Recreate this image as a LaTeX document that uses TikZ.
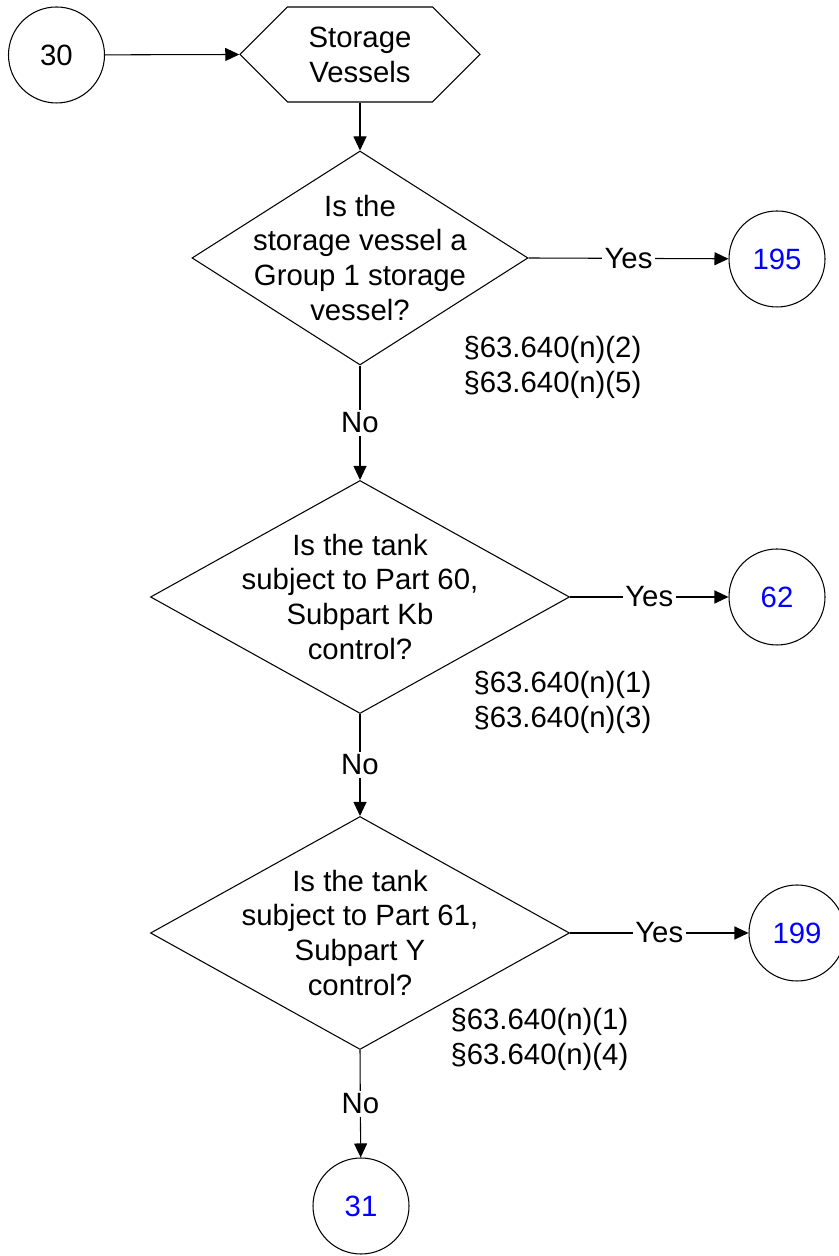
\documentclass[tikz,border=0pt]{standalone}
\usepackage{fontspec}
\setmainfont{Liberation Sans}
\usetikzlibrary{shapes.geometric,shapes.symbols,arrows.meta}
\tikzset{>={Triangle[length=2.8mm,width=2.6mm]},
  conn/.style={circle,draw,minimum size=1.92cm,inner sep=0pt},
  hexa/.style={signal,signal to=west and east,signal pointer angle=90,draw,
    minimum width=4.8cm,minimum height=1.9cm,inner sep=0pt,align=center},
  decision/.style={diamond,draw,inner sep=0pt},
  lbl/.style={fill=white,inner sep=1.5pt},
  cite/.style={anchor=west,align=left,inner sep=0pt}}

\begin{document}
\begin{tikzpicture}[line width=0.6pt,font=\fontsize{16.7}{19.9}\selectfont]
    \useasboundingbox (0,0) rectangle (16.76,25.12);
    \node[conn] at (1.13,24.02) (c30) {30};
    \node[hexa] at (7.2,24.03) (sv) {Storage\\Vessels};
    % questions
    \node[decision,minimum width=6.72cm,minimum height=4.28cm] at (7.2,19.96) (q1) {};
    \node[align=center] at (q1) (t1) {Is the\\storage vessel a\\Group 1 storage\\vessel?};
    \node[decision,minimum width=8.38cm,minimum height=4.66cm] at (7.2,13.18) (q2) {};
    \node[align=center] at (q2) (t2) {Is the tank\\subject to Part 60,\\Subpart Kb\\control?};
    \node[decision,minimum width=8.38cm,minimum height=4.66cm] at (7.2,6.46) (q3) {};
    \node[align=center] at (q3) (t3) {Is the tank\\subject to Part 61,\\Subpart Y\\control?};
    % off-page connectors
    \node[conn,text=blue] at (15.54,19.94) (c195) {195};
    \node[conn,text=blue] at (15.54,13.18) (c62) {62};
    \node[conn,text=blue] at (15.94,6.46) (c199) {199};
    \node[conn,text=blue] at (7.22,1.0) (c31) {31};
    % citations
    \node[cite] at (9.26,17.77) (r1) {§63.640(n)(2)\\§63.640(n)(5)};
    \node[cite] at (9.46,11.07) (r2) {§63.640(n)(1)\\§63.640(n)(3)};
    \node[cite] at (9.0,4.33) (r3) {§63.640(n)(1)\\§63.640(n)(4)};
    % flow
    \draw[->] (c30) -- (sv.west);
    \draw[->] (sv.south) -- (q1.north);
    \draw[->] (q1.east) -- node[lbl] {Yes} (c195);
    \draw[->] (q1.south) -- node[lbl] {No} (q2.north);
    \draw[->] (q2.east) -- node[lbl] {Yes} (c62);
    \draw[->] (q2.south) -- node[lbl] {No} (q3.north);
    \draw[->] (q3.east) -- node[lbl] {Yes} (c199);
    \draw[->] (q3.south) -- node[lbl] {No} (c31);
\end{tikzpicture}
\end{document}
